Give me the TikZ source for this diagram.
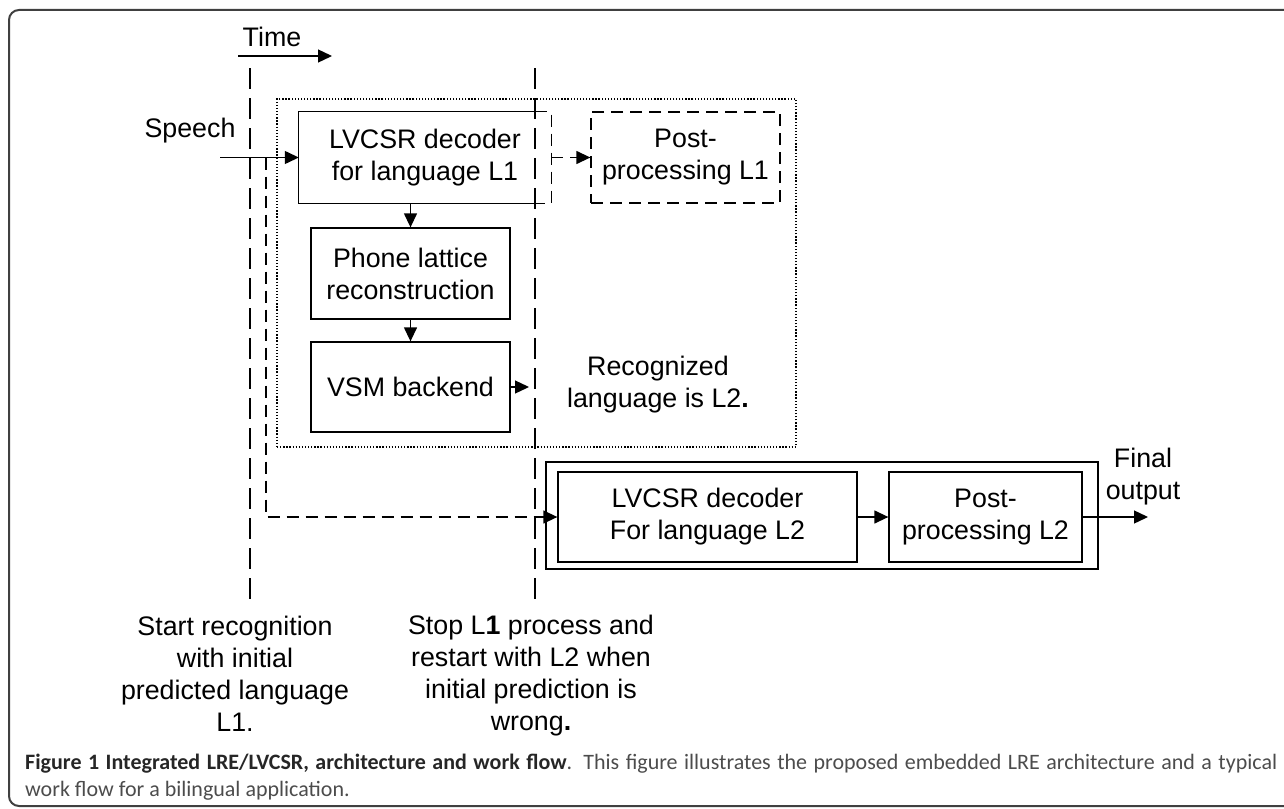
\documentclass[tikz,border=0pt]{standalone}
\usepackage{fontspec}
\setmainfont{Liberation Sans}
\newfontfamily\capfont{Carlito}
\usetikzlibrary{arrows.meta}
\begin{document}
\begin{tikzpicture}[x=1pt,y=-1pt,
  every node/.style={font=\fontsize{26.8}{32}\selectfont, inner sep=0pt, align=center},
  ln/.style={line width=1.3pt},
  box/.style={ln, draw},
  tip/.style={-{Triangle[length=14pt,width=13pt]}},
  timeline/.style={ln, dash pattern=on 21pt off 9pt},
  flowdash/.style={ln, dash pattern=on 12pt off 7pt},
  dotbox/.style={line width=1.3pt, dash pattern=on 1.3pt off 1.8pt, draw},
  capstyle/.style={font=\capfont\fontsize{22}{27}\selectfont, anchor=base west, align=left}
]
\useasboundingbox (0,0) rectangle (1284,808);
% frame
\begin{scope}
\clip (0,0) rectangle (1284,808);
\draw[line width=2pt, black!75, rounded corners=10pt] (1300,10) -- (9,10) -- (9,806) -- (1300,806);
\end{scope}

% time arrow
\node[anchor=base] (time) at (272,47) {Time};
\coordinate (ta) at (238,56);
\coordinate (tb) at (332,56);
\draw[ln,tip] (ta) -- (tb);

% time lines
\coordinate (t1a) at (250,68);
\coordinate (t1b) at (250,599);
\coordinate (t2a) at (535,68);
\coordinate (t2b) at (535,599);
\draw[timeline] (t1a) -- (t1b);
\draw[timeline] (t2a) -- (t2b);

% dotted group
\node[dotbox, minimum width=519pt, minimum height=348pt] (grp1) at (536.5,273) {};

% speech
\node[anchor=base] (speech) at (190,137) {Speech};
\coordinate (spin) at (220,157.5);
\coordinate (br) at (266,157.5);

% LVCSR L1 (part solid, part dashed)
\node[minimum width=252pt, minimum height=91pt] (dec1) at (425,157.5) {LVCSR decoder\\for language L1};
\draw[ln] (dec1.north -| t2a) -- (dec1.north west) -- (dec1.south west) -- (dec1.south -| t2a);
\draw[flowdash] (dec1.north -| t2a) -- (dec1.north east) -- (dec1.south east) -- (dec1.south -| t2a);

\node[flowdash, draw, minimum width=189pt, minimum height=91pt] (post1) at (685.5,157.5) {Post-\\processing L1};

\node[box, minimum width=199pt, minimum height=91pt] (phone) at (410.5,273.5) {Phone lattice\\reconstruction};
\node[box, minimum width=199pt, minimum height=90pt] (vsm) at (410.5,387) {VSM backend};
\coordinate (vsmend) at (529,387);

\node (recog) at (658,385) {Recognized\\language is L2\textbf{.}};

% L2 group
\node[box, minimum width=552pt, minimum height=107pt] (grp2) at (822,515.5) {};
\node[box, minimum width=299pt, minimum height=90pt] (dec2) at (707.5,517) {LVCSR decoder\\For language L2};
\node[box, minimum width=193pt, minimum height=90pt] (post2) at (985.5,517) {Post-\\processing L2};
\node (final) at (1143,477) {Final\\output};
\coordinate (out) at (1148,517);

% connectors
\draw[ln,tip] (spin) -- (dec1.west);
\draw[flowdash,tip] (dec1.east) -- (post1.west);
\draw[ln,tip] (phone.north |- dec1.south) -- (phone.north);
\draw[ln,tip] (phone) -- (vsm);
\draw[ln,tip] (vsm.east) -- (vsmend);
\draw[flowdash,tip] (br) |- (dec2.west);
\draw[ln,tip] (dec2) -- (post2);
\draw[ln,tip] (post2.east) -- (out);

% bottom notes
\node (startnote) at (235,674) {Start recognition\\with initial\\predicted language\\L1.};
\node (stopnote) at (531,676) {Stop L\textbf{1} process and\\restart with L2 when\\initial prediction is\\wrong\textbf{.}};

% caption
\node[capstyle] (cap1) at (25,769) {\makebox[1252pt][s]{\textcolor{black!85}{\bfseries Figure 1 Integrated LRE/LVCSR, architecture and work flow}\textcolor{black!70}{. This figure illustrates the proposed embedded LRE architecture and a typical}}};
\node[capstyle, text=black!70] (cap2) at (25,796) {work flow for a bilingual application.};
\end{tikzpicture}
\end{document}
